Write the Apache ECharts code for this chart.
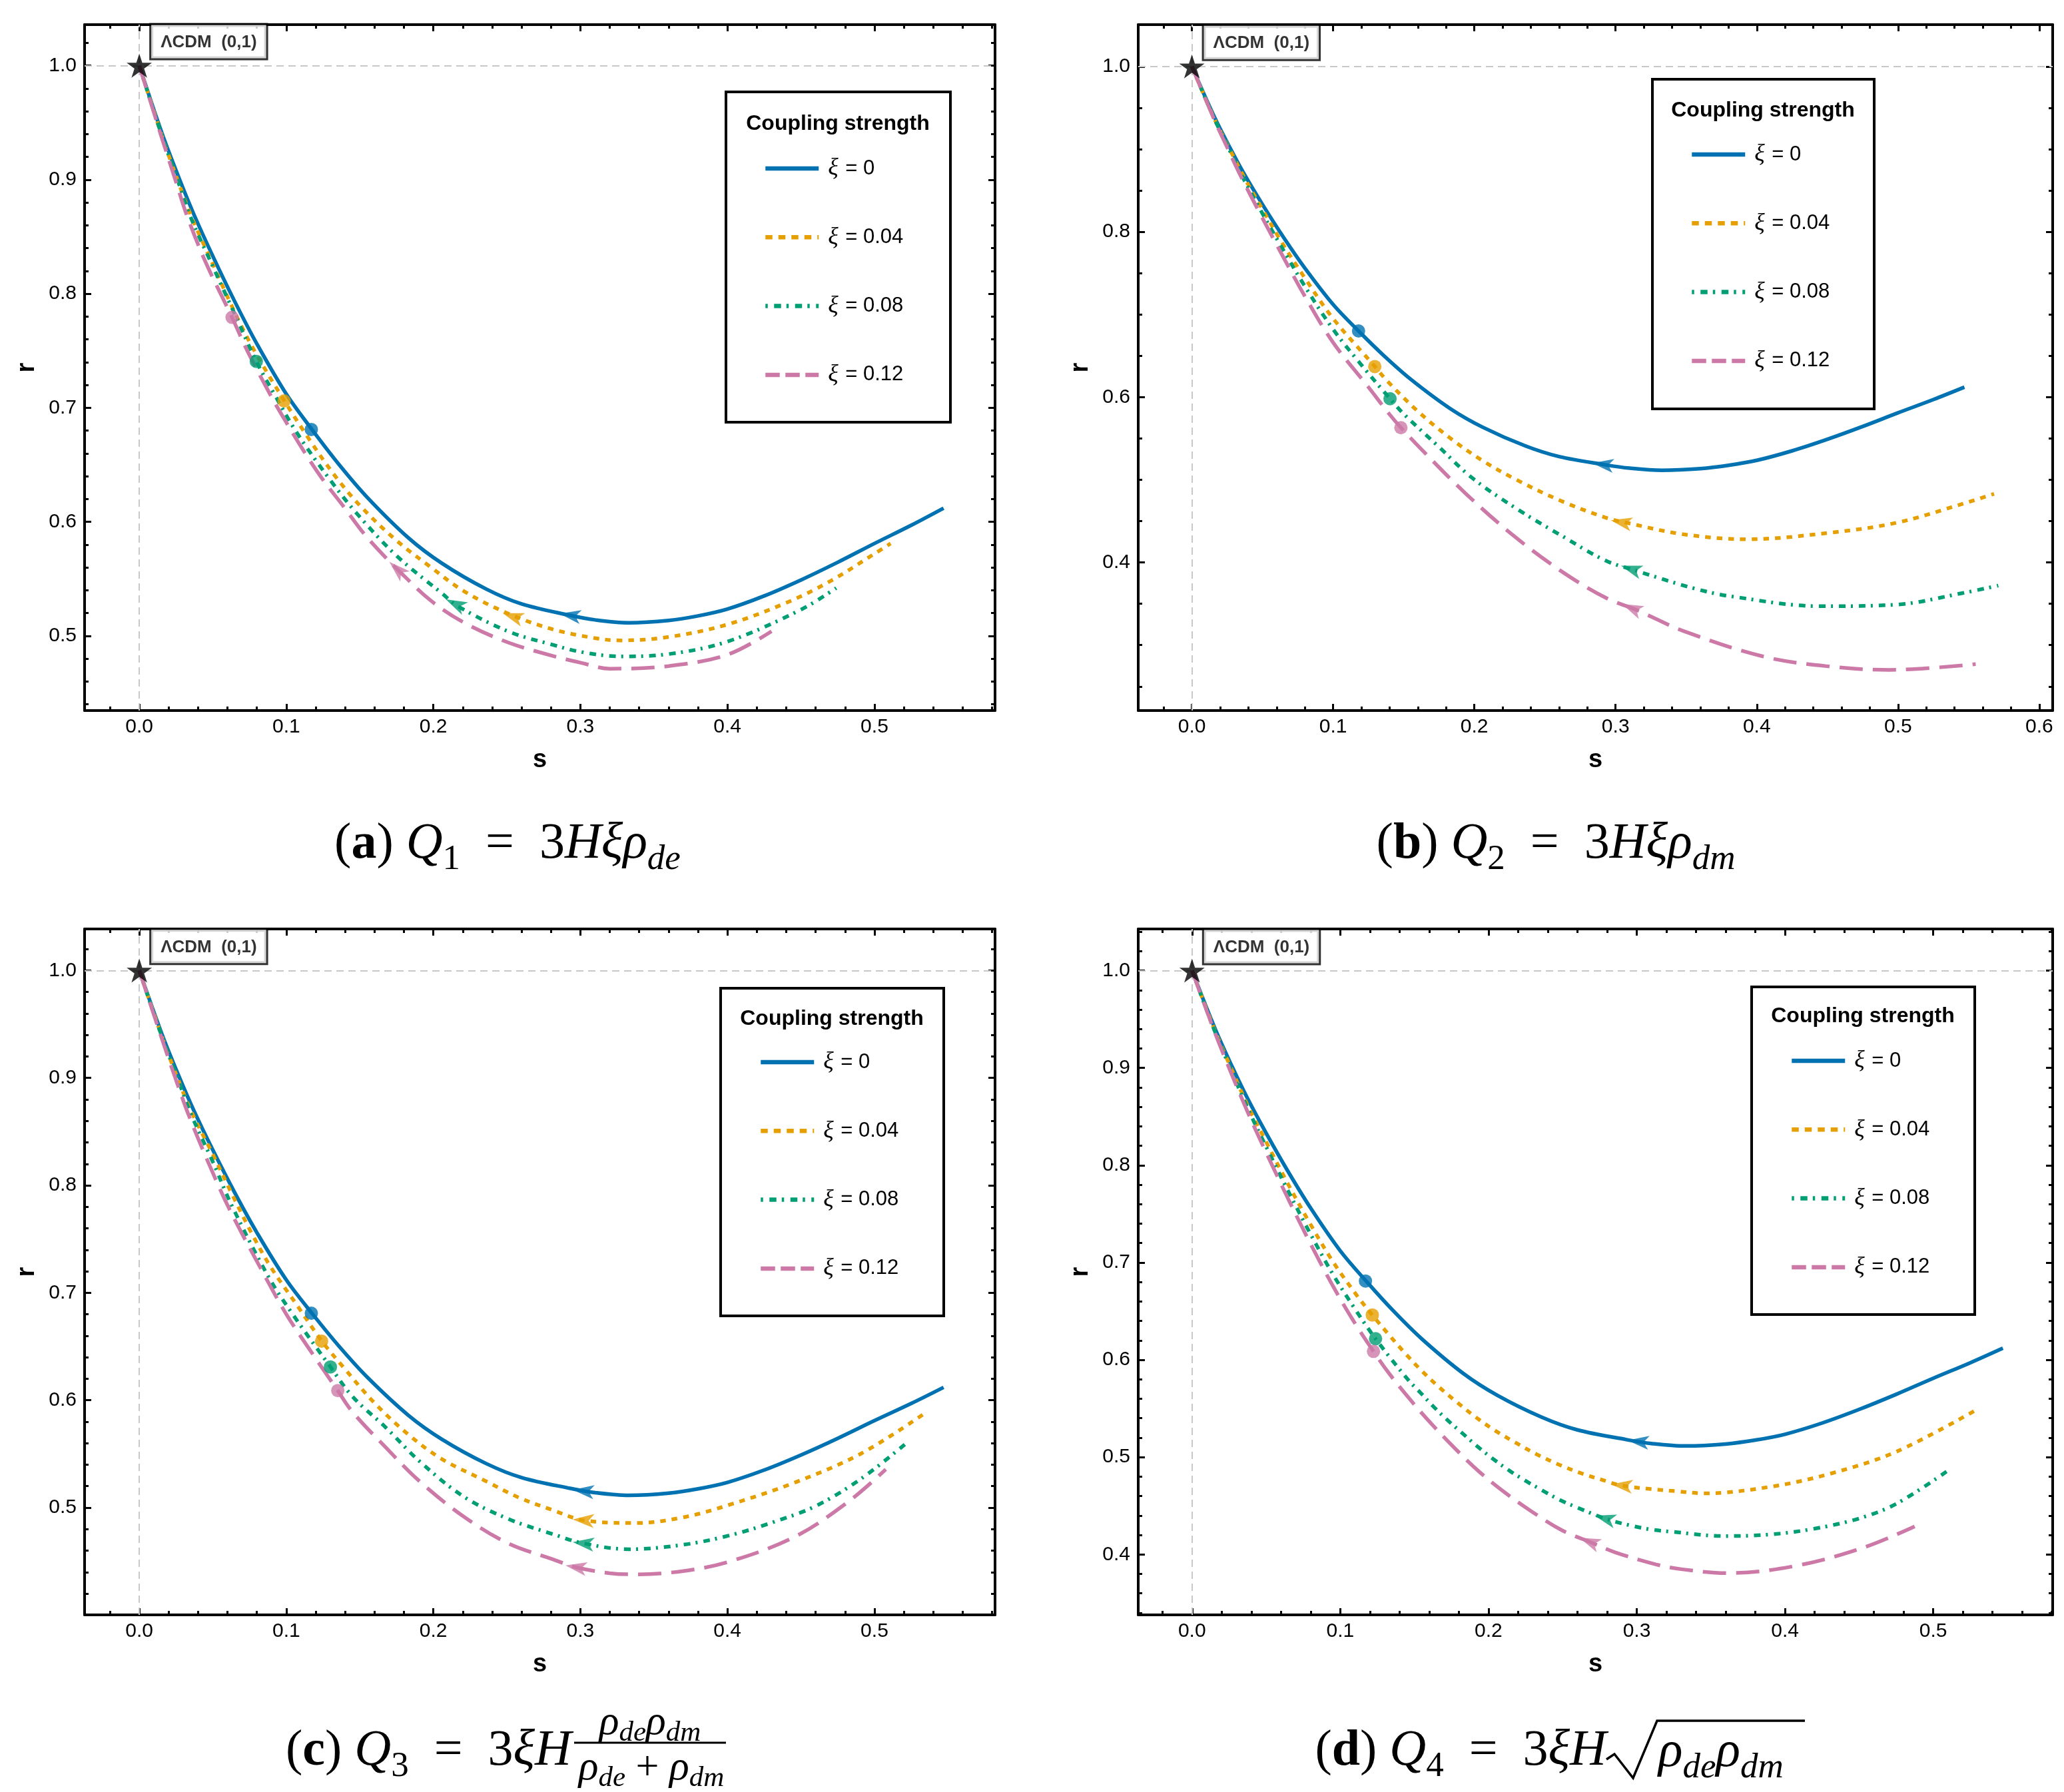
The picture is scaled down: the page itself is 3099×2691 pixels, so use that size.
<!DOCTYPE html>
<html>
<head>
<meta charset="utf-8">
<title>r-s trajectories, four interaction models</title>
<script src="https://cdn.jsdelivr.net/npm/echarts@6.0.0/dist/echarts.min.js"></script>
<style>
  html, body { margin: 0; padding: 0; background: #fff; }
  #chart { width: 3099px; height: 2691px; }
</style>
</head>
<body>
<div id="chart"></div>
<script>
// ---- data ----
// xi = 0 : identical curve in all four panels
var S_XI0 = [0, 0.0155, 0.027, 0.037, 0.05, 0.065, 0.08, 0.1, 0.118, 0.136, 0.155, 0.183, 0.206, 0.236, 0.26, 0.293, 0.31, 0.333, 0.36, 0.38, 0.4, 0.425, 0.45, 0.475, 0.5, 0.525, 0.547];
var R_XI0 = [1, 0.9405, 0.9015, 0.870, 0.833, 0.793, 0.756, 0.712, 0.680, 0.650, 0.6215, 0.586, 0.5635, 0.541, 0.528, 0.518, 0.514, 0.5115, 0.5135, 0.5175, 0.5235, 0.535, 0.549, 0.5645, 0.581, 0.597, 0.612];

// (a) Q1
var A_S_04 = [0, 0.015, 0.026, 0.036, 0.05, 0.063, 0.077, 0.098, 0.115, 0.133, 0.151, 0.175, 0.198, 0.221, 0.251, 0.281, 0.31, 0.327, 0.36, 0.4, 0.44, 0.47, 0.5, 0.511];
var A_R_04 = [1, 0.940, 0.900, 0.866, 0.826, 0.789, 0.753, 0.7075, 0.6735, 0.6405, 0.613, 0.5835, 0.5605, 0.539, 0.5195, 0.5058, 0.498, 0.496, 0.499, 0.510, 0.529, 0.548, 0.572, 0.581];
var A_S_08 = [0, 0.015, 0.026, 0.035, 0.05, 0.065, 0.0796, 0.0925, 0.1075, 0.13, 0.148, 0.175, 0.2056, 0.2176, 0.251, 0.281, 0.3, 0.327, 0.36, 0.4, 0.45, 0.474];
var A_R_08 = [1, 0.940, 0.900, 0.867, 0.824, 0.782, 0.7407, 0.7105, 0.6774, 0.6364, 0.6072, 0.5702, 0.5375, 0.5253, 0.5039, 0.4922, 0.486, 0.482, 0.484, 0.495, 0.523, 0.542];
var A_S_12 = [0, 0.015, 0.025, 0.032, 0.045, 0.0631, 0.0729, 0.0895, 0.1, 0.112, 0.1241, 0.1392, 0.1528, 0.1679, 0.1754, 0.198, 0.2207, 0.2508, 0.281, 0.3, 0.32, 0.36, 0.4, 0.43];
var A_R_12 = [1, 0.938, 0.898, 0.870, 0.828, 0.7793, 0.7515, 0.7105, 0.6871, 0.6618, 0.6384, 0.613, 0.5897, 0.5682, 0.5585, 0.5312, 0.5117, 0.4942, 0.4825, 0.4765, 0.4712, 0.4735, 0.4835, 0.504];

// (b) Q2
var B_S_04 = [0, 0.015, 0.027, 0.037, 0.05, 0.063, 0.08, 0.1, 0.1289, 0.1383, 0.1588, 0.1824, 0.2061, 0.2298, 0.2613, 0.2927, 0.3088, 0.3478, 0.393, 0.452, 0.499, 0.546, 0.568];
var B_R_04 = [1, 0.940, 0.899, 0.866, 0.827, 0.789, 0.744, 0.695, 0.6383, 0.6196, 0.5847, 0.551, 0.5228, 0.5, 0.4745, 0.4543, 0.4476, 0.4341, 0.428, 0.436, 0.448, 0.471, 0.483];
var B_S_08 = [0, 0.015, 0.026, 0.036, 0.05, 0.062, 0.08, 0.1, 0.1195, 0.1396, 0.151, 0.1746, 0.1982, 0.2298, 0.2613, 0.2927, 0.3135, 0.3555, 0.3816, 0.445, 0.499, 0.546, 0.571];
var B_R_08 = [1, 0.940, 0.901, 0.866, 0.822, 0.786, 0.734, 0.682, 0.640, 0.5994, 0.5779, 0.5403, 0.5026, 0.4651, 0.4328, 0.4024, 0.3905, 0.3686, 0.359, 0.347, 0.349, 0.363, 0.372];
var B_S_12 = [0, 0.015, 0.025, 0.035, 0.048, 0.062, 0.08, 0.1, 0.125, 0.14, 0.1475, 0.1636, 0.1935, 0.2266, 0.2613, 0.2927, 0.3163, 0.3478, 0.405, 0.452, 0.494, 0.555];
var B_R_12 = [1, 0.939, 0.902, 0.866, 0.823, 0.778, 0.722, 0.666, 0.612, 0.579, 0.564, 0.5349, 0.4839, 0.434, 0.3897, 0.3575, 0.3414, 0.3172, 0.286, 0.274, 0.270, 0.277];

// (c) Q3
var C_S_04 = [0, 0.015, 0.026, 0.036, 0.05, 0.063, 0.077, 0.0894, 0.1075, 0.1237, 0.1392, 0.1603, 0.183, 0.2056, 0.2357, 0.258, 0.281, 0.302, 0.338, 0.37, 0.401, 0.446, 0.491, 0.535];
var C_R_04 = [1, 0.940, 0.900, 0.867, 0.829, 0.792, 0.754, 0.724, 0.688, 0.6559, 0.6301, 0.597, 0.5681, 0.5454, 0.5247, 0.5095, 0.4978, 0.4883, 0.4857, 0.491, 0.5025, 0.5235, 0.5504, 0.5886];
var C_S_08 = [0, 0.015, 0.026, 0.035, 0.05, 0.063, 0.0879, 0.1045, 0.1294, 0.1452, 0.1679, 0.1905, 0.2207, 0.2508, 0.281, 0.302, 0.333, 0.37, 0.401, 0.43, 0.46, 0.491, 0.5216];
var C_R_08 = [1, 0.940, 0.900, 0.867, 0.822, 0.781, 0.7148, 0.6797, 0.6322, 0.6032, 0.5743, 0.5433, 0.5102, 0.4896, 0.4755, 0.4668, 0.4613, 0.4655, 0.474, 0.486, 0.5015, 0.527, 0.560];
var C_S_12 = [0, 0.015, 0.025, 0.034, 0.048, 0.062, 0.0849, 0.1, 0.1151, 0.1342, 0.1452, 0.1679, 0.1905, 0.2207, 0.2508, 0.281, 0.297, 0.32, 0.338, 0.37, 0.401, 0.446, 0.482, 0.5077];
var C_R_12 = [1, 0.938, 0.898, 0.864, 0.818, 0.776, 0.7169, 0.680, 0.6487, 0.6105, 0.5888, 0.5557, 0.5247, 0.4916, 0.4668, 0.452, 0.4445, 0.439, 0.4379, 0.441, 0.4496, 0.473, 0.5053, 0.5356];

// (d) Q4
var D_S_04 = [0, 0.015, 0.027, 0.038, 0.05, 0.065, 0.08, 0.095, 0.1115, 0.1216, 0.1325, 0.143, 0.1542, 0.1662, 0.1785, 0.1914, 0.2047, 0.2187, 0.2329, 0.2479, 0.2629, 0.2786, 0.2891, 0.3094, 0.3266, 0.3456, 0.39, 0.4306, 0.475, 0.528];
var D_R_04 = [1, 0.940, 0.8975, 0.860, 0.824, 0.780, 0.739, 0.701, 0.6655, 0.6461, 0.6263, 0.608, 0.5898, 0.5726, 0.5567, 0.5411, 0.527, 0.5145, 0.5026, 0.4921, 0.4832, 0.4757, 0.471, 0.4672, 0.465, 0.4628, 0.4695, 0.483, 0.5055, 0.5477];
var D_S_08 = [0, 0.015, 0.027, 0.038, 0.05, 0.065, 0.08, 0.095, 0.1093, 0.1238, 0.1455, 0.1545, 0.1635, 0.1733, 0.183, 0.1928, 0.2032, 0.2142, 0.225, 0.2367, 0.2482, 0.2602, 0.2786, 0.2951, 0.3101, 0.3236, 0.359, 0.39, 0.42, 0.45, 0.475, 0.51];
var D_R_08 = [1, 0.939, 0.8955, 0.857, 0.819, 0.773, 0.729, 0.688, 0.6537, 0.6217, 0.580, 0.5655, 0.551, 0.5367, 0.5237, 0.5106, 0.498, 0.486, 0.4757, 0.4655, 0.456, 0.448, 0.4369, 0.430, 0.4255, 0.4233, 0.4189, 0.4205, 0.4265, 0.437, 0.452, 0.4862];
var D_S_12 = [0, 0.015, 0.027, 0.038, 0.05, 0.065, 0.08, 0.095, 0.1093, 0.1224, 0.1328, 0.147, 0.1617, 0.1778, 0.1939, 0.2115, 0.2299, 0.2496, 0.2681, 0.2854, 0.3131, 0.3308, 0.3612, 0.408, 0.453, 0.4875];
var D_R_12 = [1, 0.938, 0.8925, 0.853, 0.813, 0.765, 0.719, 0.676, 0.639, 0.6087, 0.5863, 0.5594, 0.5339, 0.5083, 0.4848, 0.4631, 0.4433, 0.4248, 0.413, 0.4022, 0.3897, 0.3847, 0.3808, 0.3885, 0.4071, 0.4288];

// present-day points (xi = 0, 0.04, 0.08, 0.12)
var DOTS_A = [[0.117, 0.681], [0.0985, 0.706], [0.0796, 0.7407], [0.0631, 0.7793]];
var DOTS_B = [[0.118, 0.680], [0.1295, 0.637], [0.1403, 0.598], [0.148, 0.563]];
var DOTS_C = [[0.117, 0.681], [0.124, 0.655], [0.130, 0.631], [0.135, 0.609]];
var DOTS_D = [[0.117, 0.681], [0.1216, 0.6461], [0.1238, 0.6217], [0.1224, 0.6087]];

// arrow heads: [tail, head] along each curve
var ARROWS_A = [[[0.313, 0.5138], [0.293, 0.518]], [[0.274, 0.5085], [0.254, 0.517]], [[0.235, 0.5155], [0.215, 0.528]], [[0.1954, 0.5345], [0.1754, 0.5585]]];
var ARROWS_B = [[[0.311, 0.514], [0.291, 0.5185]], [[0.324, 0.4415], [0.304, 0.4485]], [[0.331, 0.381], [0.311, 0.392]], [[0.3315, 0.3295], [0.3115, 0.3445]]];
var ARROWS_C = [[[0.322, 0.5125], [0.302, 0.5155]], [[0.322, 0.4865], [0.302, 0.4883]], [[0.322, 0.4635], [0.302, 0.4668]], [[0.317, 0.4398], [0.297, 0.4445]]];
var ARROWS_D = [[[0.321, 0.5125], [0.301, 0.516]], [[0.31, 0.4672], [0.29, 0.4708]], [[0.2986, 0.4285], [0.2786, 0.4369]], [[0.2881, 0.4005], [0.2681, 0.413]]];

var LCDM = [0, 1];
var XI_NAMES = ['ξ = 0', 'ξ = 0.04', 'ξ = 0.08', 'ξ = 0.12'];

// ---- styling ----
var COLORS = ['#0072B2', '#E69F00', '#009E73', '#CC79A7'];
var DASH = ['solid', [8.5, 9], [10, 8, 3, 9], [35, 15]];
var LEGEND_DASH = ['solid', [10.5, 9], [3.5, 9.5, 10.5, 8], [21.5, 8.5]];
var SANS = 'Liberation Sans';
var SERIF = 'Liberation Serif';
var STAR = 'path://M0,-50 L11.2,-15.5 L47.6,-15.5 L18.2,5.9 L29.4,40.5 L0,19.1 L-29.4,40.5 L-18.2,5.9 L-47.6,-15.5 L-11.2,-15.5 Z';
var ARROW = 'path://M0,0 L9,28 L0,21 L-9,28 Z';

var panels = [
  { grid: [127, 37, 1367, 1030], x: [-0.0372, 0.582], y: [0.4345, 1.036], yStep: 0.1, yMinor: 5,
    curves: [[S_XI0, R_XI0], [A_S_04, A_R_04], [A_S_08, A_R_08], [A_S_12, A_R_12]],
    dots: DOTS_A, arrows: ARROWS_A, box: [1090, 138, 337, 496], boxTitle: [1258, 186], legend: [1146, 233] },
  { grid: [1709, 37, 1373, 1030], x: [-0.038, 0.6095], y: [0.2208, 1.0506], yStep: 0.2, yMinor: 4,
    curves: [[S_XI0, R_XI0], [B_S_04, B_R_04], [B_S_08, B_R_08], [B_S_12, B_R_12]],
    dots: DOTS_B, arrows: ARROWS_B, box: [2481, 119, 333, 495], boxTitle: [2647, 166], legend: [2537, 212] },
  { grid: [127, 1395, 1367, 1030], x: [-0.0372, 0.582], y: [0.4002, 1.0387], yStep: 0.1, yMinor: 5,
    curves: [[S_XI0, R_XI0], [C_S_04, C_R_04], [C_S_08, C_R_08], [C_S_12, C_R_12]],
    dots: DOTS_C, arrows: ARROWS_C, box: [1082, 1484, 335, 492], boxTitle: [1249, 1530], legend: [1139, 1575] },
  { grid: [1709, 1395, 1373, 1030], x: [-0.0363, 0.5806], y: [0.3379, 1.0428], yStep: 0.1, yMinor: 5,
    curves: [[S_XI0, R_XI0], [D_S_04, D_R_04], [D_S_08, D_R_08], [D_S_12, D_R_12]],
    dots: DOTS_D, arrows: ARROWS_D, box: [2630, 1482, 335, 492], boxTitle: [2797, 1526], legend: [2687, 1573] }
];

function zip(s, r) {
  return s.map(function (v, i) { return [v, r[i]]; });
}

function tickLabel(step) {
  return function (v) {
    var k = v / step;
    return Math.abs(k - Math.round(k)) < 1e-6 ? v.toFixed(1) : '';
  };
}

function makeAxis(gridIndex, pos, ext, step, minor, main) {
  var isX = pos === 'bottom' || pos === 'top';
  var ax = {
    type: 'value', gridIndex: gridIndex, position: pos,
    min: ext[0], max: ext[1], minInterval: step, maxInterval: step,
    splitNumber: Math.round((ext[1] - ext[0]) / step),
    axisLine: { show: true, onZero: false, lineStyle: { color: '#000', width: 4 } },
    axisTick: { show: true, inside: true, length: 10, lineStyle: { color: '#000', width: 3 } },
    minorTick: { show: true, splitNumber: minor, length: 6, lineStyle: { color: '#000', width: 3 } },
    splitLine: { show: false }, minorSplitLine: { show: false },
    axisLabel: { show: main, formatter: tickLabel(step), margin: isX ? 10 : 12,
      fontSize: 30, fontFamily: SANS, color: '#000', showMinLabel: true, showMaxLabel: true },
    nameMoveOverlap: false
  };
  if (main) {
    ax.name = isX ? 's' : 'r';
    ax.nameLocation = 'middle';
    ax.nameGap = isX ? 56 : 67;
    ax.nameTextStyle = { fontSize: 38, fontWeight: 'bold', fontFamily: SANS, color: '#000' };
    if (!isX) ax.nameRotate = 90;
  }
  return ax;
}

var grids = [], xAxes = [], yAxes = [], series = [], legends = [], graphics = [];

panels.forEach(function (p, i) {
  grids.push({ left: p.grid[0], top: p.grid[1], width: p.grid[2], height: p.grid[3],
    containLabel: false, outerBoundsMode: 'none', show: false });
  xAxes.push(makeAxis(i, 'bottom', p.x, 0.1, 5, true));
  xAxes.push(makeAxis(i, 'top', p.x, 0.1, 5, false));
  yAxes.push(makeAxis(i, 'left', p.y, p.yStep, p.yMinor, true));
  yAxes.push(makeAxis(i, 'right', p.y, p.yStep, p.yMinor, false));
  var xi = 2 * i, yi = 2 * i;

  // dashed guide lines through the LCDM point
  series.push({
    type: 'line', xAxisIndex: xi, yAxisIndex: yi, data: [LCDM], symbol: 'none',
    lineStyle: { opacity: 0 }, z: 1, silent: true,
    markLine: { silent: true, symbol: 'none', animation: false, label: { show: false },
      lineStyle: { color: '#c8c8c8', width: 2, type: [11, 7] },
      data: [{ xAxis: LCDM[0] }, { yAxis: LCDM[1] }] }
  });

  p.curves.forEach(function (c, k) {
    series.push({
      type: 'line', name: XI_NAMES[k], xAxisIndex: xi, yAxisIndex: yi,
      data: zip(c[0], c[1]), symbol: 'none', showSymbol: false,
      smooth: 0.35, z: 2 + k,
      lineStyle: { color: COLORS[k], width: 5.5, type: DASH[k], cap: 'butt' },
      itemStyle: { color: COLORS[k] },
      emphasis: { disabled: true }
    });
  });

  series.push({
    type: 'scatter', xAxisIndex: xi, yAxisIndex: yi, symbolSize: 20, z: 7, silent: true,
    data: p.dots.map(function (d, k) { return { value: d, itemStyle: { color: COLORS[k] } }; })
  });

  series.push({
    type: 'scatter', xAxisIndex: xi, yAxisIndex: yi, z: 9, silent: true,
    data: [LCDM], symbol: STAR, symbolSize: 38, symbolKeepAspect: true,
    itemStyle: { color: '#000' },
    label: { show: true, position: [37, -43], formatter: 'ΛCDM  (0,1)',
      fontSize: 26, fontWeight: 'bold', fontFamily: SANS, color: '#000', lineHeight: 30,
      backgroundColor: '#fff', borderColor: '#000', borderWidth: 3, padding: [11, 14, 9, 14] }
  });

  legends.push({
    left: p.legend[0], top: p.legend[1], orient: 'vertical', padding: 0, z: 10,
    itemGap: 63.3, itemWidth: 80, itemHeight: 14, selectedMode: false,
    itemStyle: { color: 'rgba(0,0,0,0)', opacity: 0, borderWidth: 0 },
    data: XI_NAMES.map(function (n, k) {
      return { name: n, itemStyle: { opacity: 0 },
        lineStyle: { type: LEGEND_DASH[k], width: 6.5, color: COLORS[k] } };
    }),
    formatter: function (n) { return '{i|ξ}' + n.slice(1); },
    textStyle: { fontSize: 31, fontFamily: SANS, color: '#000', lineHeight: 40,
      rich: { i: { fontSize: 36, fontStyle: 'italic', fontFamily: SERIF, lineHeight: 40, padding: [0, 2, 0, 9] } } }
  });

  graphics.push({ type: 'rect', z: 8, silent: true,
    shape: { x: p.box[0], y: p.box[1], width: p.box[2], height: p.box[3] },
    style: { fill: '#fff', stroke: '#000', lineWidth: 4 } });
  graphics.push({ type: 'text', z: 9, silent: true, x: p.boxTitle[0], y: p.boxTitle[1],
    style: { text: 'Coupling strength', fontSize: 32, fontWeight: 'bold', fontFamily: SANS,
      fill: '#000', textAlign: 'center', textVerticalAlign: 'middle' } });
});

// ---- sub-figure captions ----
var CAP_RICH = {
  n:  { fontFamily: SERIF, fontSize: 76, lineHeight: 100, fill: '#000' },
  bo: { fontFamily: SERIF, fontSize: 76, fontWeight: 'bold', lineHeight: 100, fill: '#000' },
  it: { fontFamily: SERIF, fontSize: 76, fontStyle: 'italic', lineHeight: 100, fill: '#000' },
  sb: { fontFamily: SERIF, fontSize: 53, lineHeight: 53, verticalAlign: 'bottom', fill: '#000' },
  si: { fontFamily: SERIF, fontSize: 53, fontStyle: 'italic', lineHeight: 53, verticalAlign: 'bottom', fill: '#000' },
  ft: { fontFamily: SERIF, fontSize: 62, fontStyle: 'italic', lineHeight: 72, fill: '#000' },
  fn: { fontFamily: SERIF, fontSize: 62, lineHeight: 72, fill: '#000' },
  fs: { fontFamily: SERIF, fontSize: 43, fontStyle: 'italic', lineHeight: 43, verticalAlign: 'bottom', fill: '#000' }
};
function capText(text, x, y, align) {
  return { type: 'text', silent: true, x: x, y: y, z: 9,
    style: { text: text, rich: CAP_RICH, fill: '#000', fontFamily: SERIF, fontSize: 76,
      textAlign: align || 'center', textVerticalAlign: 'middle' } };
}
graphics.push(capText('{n|(}{bo|a}{n|) }{it|Q}{sb|1}{n|  =  3}{it|Hξρ}{si|de}', 762, 1268));
graphics.push(capText('{n|(}{bo|b}{n|) }{it|Q}{sb|2}{n|  =  3}{it|Hξρ}{si|dm}', 2336, 1268));
graphics.push(capText('{n|(}{bo|c}{n|) }{it|Q}{sb|3}{n|  =  3}{it|ξH}', 858, 2630, 'right'));
graphics.push(capText('{ft|ρ}{fs|de}{ft|ρ}{fs|dm}', 976, 2588));
graphics.push({ type: 'line', silent: true, z: 9, shape: { x1: 862, y1: 2617, x2: 1090, y2: 2617 },
  style: { stroke: '#000', lineWidth: 3 } });
graphics.push(capText('{ft|ρ}{fs|de}{fn| + }{ft|ρ}{fs|dm}', 978, 2656));
graphics.push(capText('{n|(}{bo|d}{n|) }{it|Q}{sb|4}{n|  =  3}{it|ξH}', 2412, 2630, 'right'));
graphics.push({ type: 'polyline', silent: true, z: 9,
  shape: { points: [[2412, 2642], [2424, 2634], [2452, 2670], [2488, 2584], [2710, 2584]] },
  style: { stroke: '#000', lineWidth: 3.5, fill: null } });
graphics.push(capText('{it|ρ}{si|de}{it|ρ}{si|dm}', 2490, 2632, 'left'));

var chart = echarts.init(document.getElementById('chart'), null, { renderer: 'canvas', width: 3099, height: 2691 });
chart.setOption({
  animation: false,
  backgroundColor: '#fff',
  grid: grids,
  xAxis: xAxes,
  yAxis: yAxes,
  legend: legends,
  graphic: graphics,
  series: series
});

// direction arrows: orientation taken from the pixel direction tail -> head
panels.forEach(function (p, i) {
  var finder = { xAxisIndex: 2 * i, yAxisIndex: 2 * i };
  p.arrows.forEach(function (a, k) {
    var t = chart.convertToPixel(finder, a[0]);
    var h = chart.convertToPixel(finder, a[1]);
    var ang = Math.atan2(-(h[0] - t[0]), -(h[1] - t[1])) * 180 / Math.PI;
    series.push({
      type: 'scatter', xAxisIndex: 2 * i, yAxisIndex: 2 * i, z: 6, silent: true,
      data: [a[1]], symbol: ARROW, symbolSize: [21, 32], symbolRotate: ang,
      itemStyle: { color: COLORS[k] }
    });
  });
});
chart.setOption({ series: series });
</script>
</body>
</html>
